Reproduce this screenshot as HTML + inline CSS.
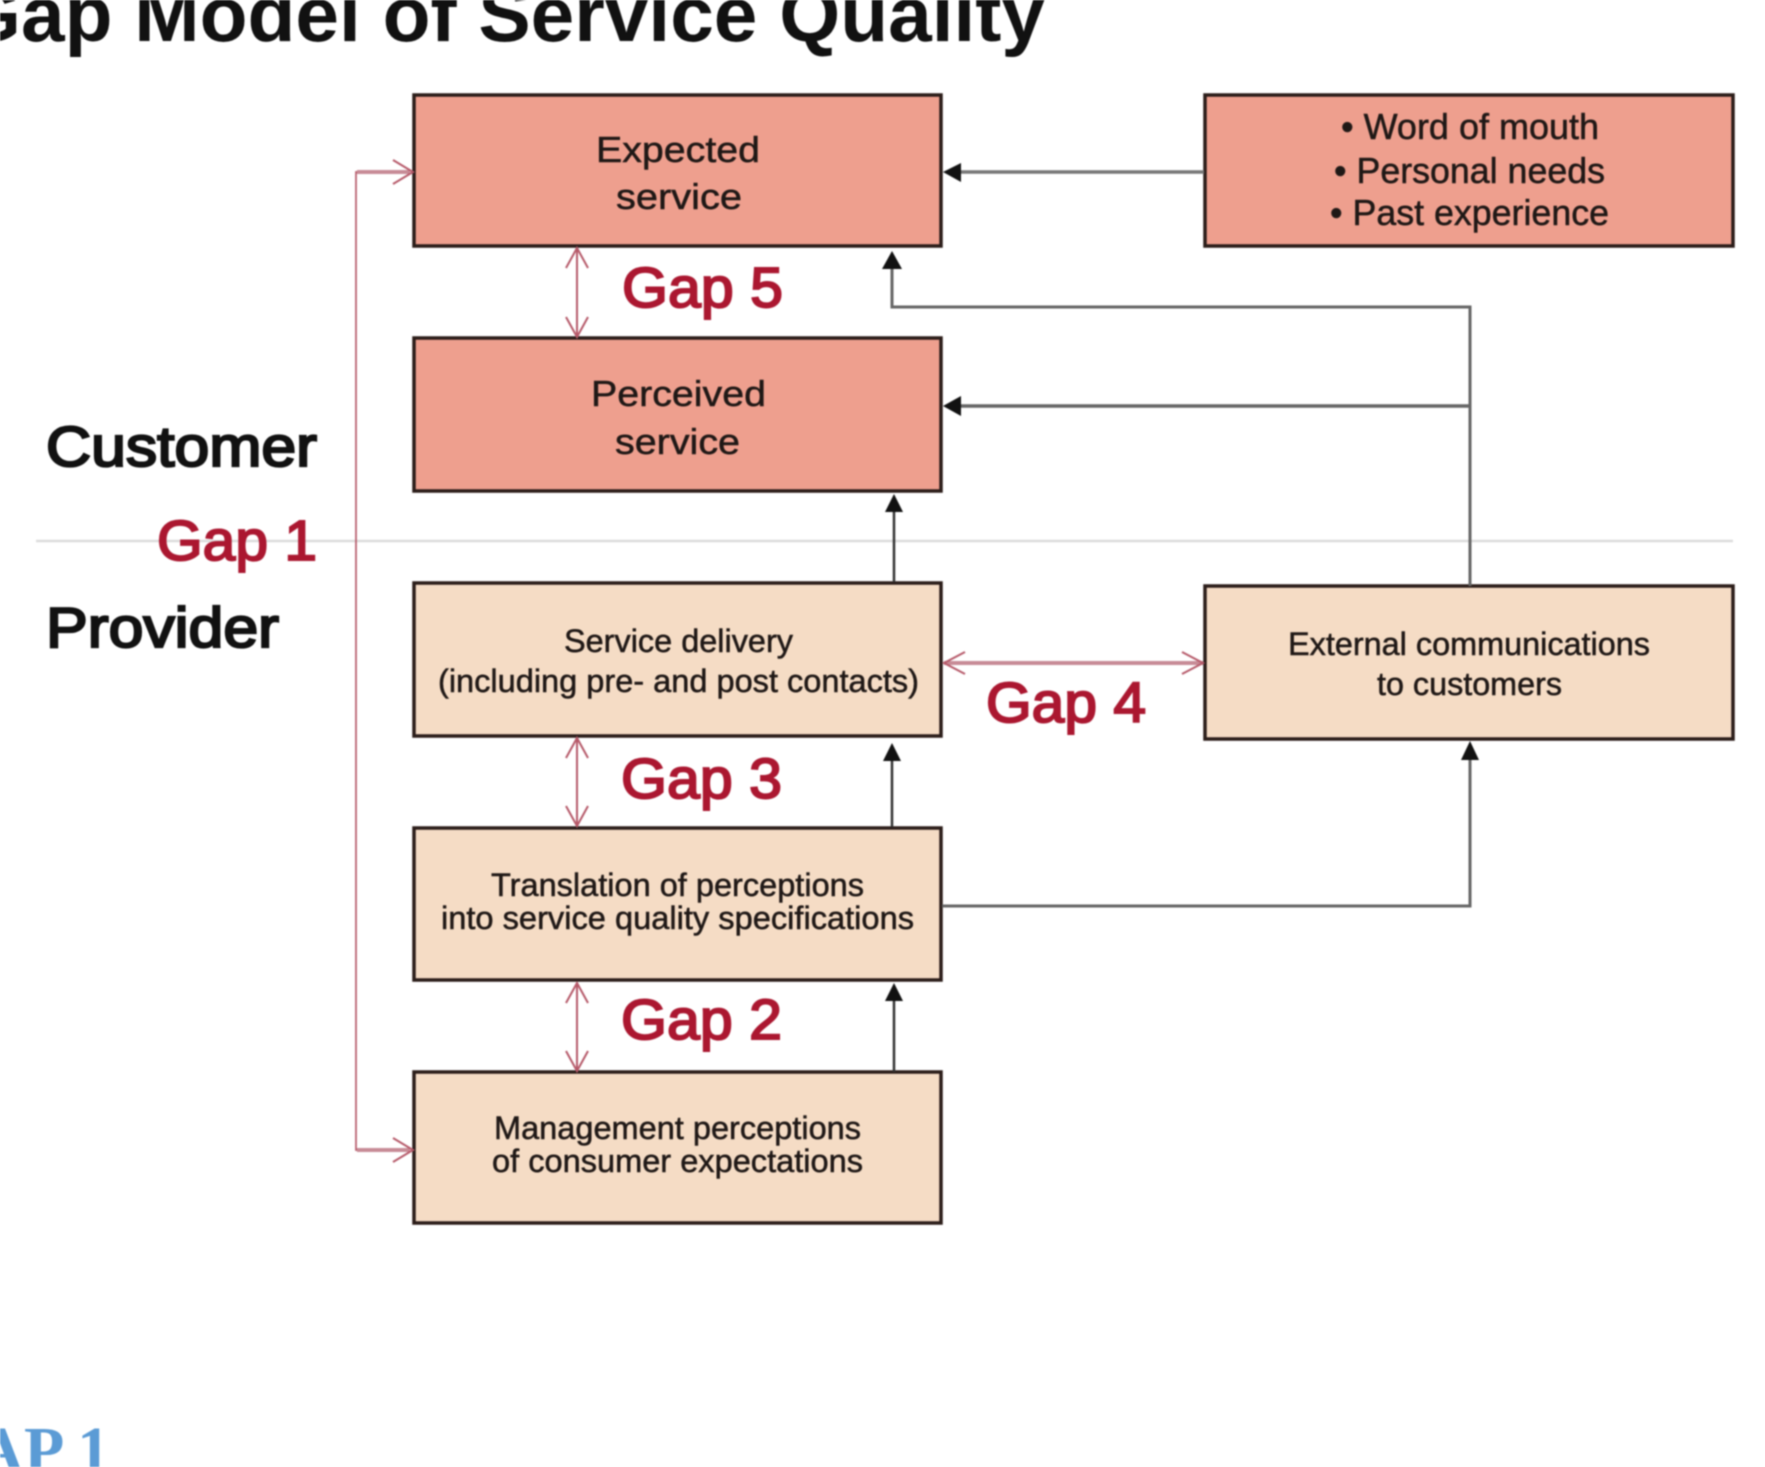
<!DOCTYPE html>
<html lang="en">
<head>
<meta charset="utf-8">
<title>Gap Model of Service Quality</title>
<style>
html,body{margin:0;padding:0;background:#fff;width:1765px;height:1467px;overflow:hidden}
svg{display:block;filter:blur(0.8px)}
text{font-family:"Liberation Sans",Arial,sans-serif}
.t{font-size:36px;fill:#1f1816;stroke:#1f1816;stroke-width:.5;font-weight:400}
.s{font-size:32px}
.h{font-size:57px;font-weight:400;fill:#111;stroke:#111;stroke-width:2.3}
.g{font-size:57px;font-weight:400;fill:#ab1730;stroke:#ab1730;stroke-width:2}
.box{stroke:#2b1d1a;stroke-width:3.5}
.p{fill:#ee9f8e}
.q{fill:#f5dcc5}
.gl{stroke:#666;stroke-width:2.5;fill:none}
.r{stroke:#b65a6a;stroke-width:2;fill:none}
.rt{stroke:#c78b96;stroke-width:4;fill:none}
</style>
</head>
<body>
<svg width="1765" height="1467" viewBox="0 0 1765 1467" xmlns="http://www.w3.org/2000/svg">
<rect width="1765" height="1467" fill="#fff"/>

<text x="-40" y="41" font-size="78" font-weight="700" fill="#111" textLength="1085" lengthAdjust="spacingAndGlyphs">Gap Model of Service Quality</text>

<!-- divider -->
<line x1="36" y1="541" x2="1733" y2="541" stroke="#dcdcdc" stroke-width="2.5"/>

<!-- boxes -->
<rect class="box p" x="414" y="95" width="527" height="151"/>
<rect class="box p" x="414" y="338" width="527" height="153"/>
<rect class="box p" x="1205" y="95" width="528" height="151"/>
<rect class="box q" x="414" y="583" width="527" height="153"/>
<rect class="box q" x="414" y="828" width="527" height="152"/>
<rect class="box q" x="414" y="1072" width="527" height="151"/>
<rect class="box q" x="1205" y="586" width="528" height="153"/>

<!-- grey connectors -->
<line class="gl" x1="1204" y1="172" x2="955" y2="172" style="stroke-width:3.5;stroke:#777"/>
<polygon points="943,172 961,163 961,182" fill="#111"/>
<polyline class="gl" points="1470,586 1470,307 892,307 892,262" style="stroke-width:3"/>
<polygon points="892,251 882,269 902,269" fill="#111"/>
<line class="gl" x1="1470" y1="406" x2="955" y2="406" style="stroke-width:3.5;stroke:#666"/>
<polygon points="943,406 961,396 961,416" fill="#111"/>
<line x1="894" y1="582" x2="894" y2="505" stroke="#333" stroke-width="2.5"/>
<polygon points="894,494 885,512 903,512" fill="#111"/>
<line x1="892" y1="827" x2="892" y2="755" stroke="#333" stroke-width="2.5"/>
<polygon points="892,743 883,761 901,761" fill="#111"/>
<line x1="894" y1="1072" x2="894" y2="995" stroke="#333" stroke-width="2.5"/>
<polygon points="894,983 885,1001 903,1001" fill="#111"/>
<polyline class="gl" points="942,906 1470,906 1470,755" style="stroke-width:3"/>
<polygon points="1470,741 1461,760 1479,760" fill="#111"/>

<!-- gap connectors -->
<polyline class="r" style="stroke-width:1.7" points="391,172 356,172 356,1150 391,1150"/>
<line class="rt" x1="357" y1="172" x2="410" y2="172"/>
<line class="rt" x1="357" y1="1150" x2="410" y2="1150"/>
<polyline class="r" points="393,160 413,172 393,184"/>
<polyline class="r" points="393,1138 413,1150 393,1162"/>

<line class="r" x1="577" y1="248" x2="577" y2="337"/>
<polyline class="r" points="566,268 577,248 588,268"/>
<polyline class="r" points="566,317 577,337 588,317"/>

<line class="r" x1="577" y1="738" x2="577" y2="826"/>
<polyline class="r" points="566,758 577,738 588,758"/>
<polyline class="r" points="566,806 577,826 588,806"/>

<line class="r" x1="577" y1="983" x2="577" y2="1071"/>
<polyline class="r" points="566,1003 577,983 588,1003"/>
<polyline class="r" points="566,1051 577,1071 588,1051"/>

<line class="rt" x1="944" y1="663" x2="1203" y2="663"/>
<polyline class="r" points="965,652 944,663 965,674"/>
<polyline class="r" points="1182,652 1203,663 1182,674"/>

<!-- side labels -->
<text class="h" x="46" y="466" textLength="271" lengthAdjust="spacingAndGlyphs">Customer</text>
<text class="h" x="46" y="647" textLength="233" lengthAdjust="spacingAndGlyphs">Provider</text>

<!-- gap labels -->
<text class="g" x="157" y="560" textLength="160" lengthAdjust="spacingAndGlyphs">Gap 1</text>
<text class="g" x="622" y="307" textLength="161" lengthAdjust="spacingAndGlyphs">Gap 5</text>
<text class="g" x="621" y="798" textLength="161" lengthAdjust="spacingAndGlyphs">Gap 3</text>
<text class="g" x="621" y="1039" textLength="161" lengthAdjust="spacingAndGlyphs">Gap 2</text>
<text class="g" x="986" y="722" textLength="160" lengthAdjust="spacingAndGlyphs">Gap 4</text>

<!-- box text -->
<text class="t" x="596" y="162" textLength="164" lengthAdjust="spacingAndGlyphs">Expected</text>
<text class="t" x="616" y="209" textLength="126" lengthAdjust="spacingAndGlyphs">service</text>
<text class="t" x="591" y="406" textLength="175" lengthAdjust="spacingAndGlyphs">Perceived</text>
<text class="t" x="615" y="454" textLength="125" lengthAdjust="spacingAndGlyphs">service</text>

<text class="t" x="1341" y="139" textLength="258" lengthAdjust="spacingAndGlyphs">• Word of mouth</text>
<text class="t" x="1334" y="183" textLength="271" lengthAdjust="spacingAndGlyphs">• Personal needs</text>
<text class="t" x="1330" y="225" textLength="279" lengthAdjust="spacingAndGlyphs">• Past experience</text>

<text class="t s" x="564" y="652" textLength="229" lengthAdjust="spacingAndGlyphs">Service delivery</text>
<text class="t s" x="438" y="692" textLength="481" lengthAdjust="spacingAndGlyphs">(including pre- and post contacts)</text>
<text class="t s" x="491" y="896" textLength="373" lengthAdjust="spacingAndGlyphs">Translation of perceptions</text>
<text class="t s" x="441" y="929" textLength="473" lengthAdjust="spacingAndGlyphs">into service quality specifications</text>
<text class="t s" x="494" y="1139" textLength="367" lengthAdjust="spacingAndGlyphs">Management perceptions</text>
<text class="t s" x="492" y="1172" textLength="371" lengthAdjust="spacingAndGlyphs">of consumer expectations</text>
<text class="t s" x="1288" y="655" textLength="362" lengthAdjust="spacingAndGlyphs">External communications</text>
<text class="t s" x="1377" y="695" textLength="185" lengthAdjust="spacingAndGlyphs">to customers</text>

<!-- cropped heading at bottom -->
<text x="-75" y="1472" font-size="66" font-weight="700" fill="#5b9bd5" style="font-family:'Liberation Serif',serif">GAP 1</text>
</svg>
</body>
</html>
